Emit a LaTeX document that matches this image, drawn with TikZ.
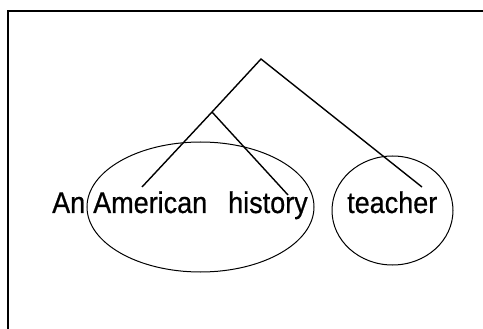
\documentclass[tikz,border=0pt]{standalone}
\usepackage{fontspec}
\setmainfont{Liberation Sans}
\newfontfamily\narrowsans[FakeStretch=0.9,FakeBold=0.6]{Liberation Sans}
\begin{document}
\begin{tikzpicture}[x=1pt,y=-1pt,
  word/.style={anchor=base west,inner sep=0pt,font=\narrowsans\fontsize{30}{32}\selectfont},
  branch/.style={line width=1.4pt},
  blob/.style={line width=1pt}]
\useasboundingbox (0,0) rectangle (483,329);
\draw[line width=2pt] (490,11) -- (8,11) -- (8,340);
% words
\node[word] (an) at (52,213) {An};
\node[word] (american) at (93,213) {American};
\node[word] (history) at (228,213) {history};
\node[word] (teacher) at (347,213) {teacher};
% tree
\coordinate (top) at (261,59);
\coordinate (mid) at (212,112);
\coordinate (amEnd) at (142,187);
\coordinate (hiEnd) at (288,195);
\coordinate (teEnd) at (422,187);
\draw[branch] (amEnd) -- (mid) -- (top) -- (teEnd);
\draw[branch] (mid) -- (hiEnd);
% groups
\draw[blob] (200.5,207) ellipse [x radius=113.5pt, y radius=65pt];
\draw[blob] (392.5,210.5) ellipse [x radius=60.5pt, y radius=54.5pt];
\end{tikzpicture}
\end{document}
